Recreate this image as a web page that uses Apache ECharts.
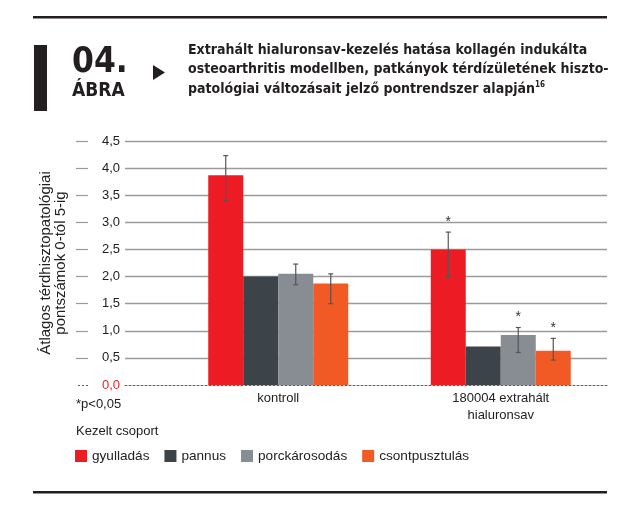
<!DOCTYPE html>
<html>
<head>
<meta charset="utf-8">
<script src="https://cdn.jsdelivr.net/npm/echarts@6/dist/echarts.min.js"></script>
<style>html,body{margin:0;padding:0;background:#fff}#c{width:643px;height:514px}</style>
</head>
<body>
<div id="c"></div>
<script>
// ---- data ----
var categories = ['kontroll', '180004 extrahált\nhialuronsav'];
var seriesNames = ['gyulladás', 'pannus', 'porckárosodás', 'csontpusztulás'];
var inflammation = [3.87, 2.50];
var pannus = [2.00, 0.71];
var cartilage = [2.05, 0.92];
var bone = [1.87, 0.63];
var inflammationErr = [[3.40, 4.23], [2.00, 2.82]];
var pannusErr = [null, null];
var cartilageErr = [[1.85, 2.23], [0.60, 1.06]];
var boneErr = [[1.50, 2.05], [0.46, 0.86]];
var inflammationSig = [false, true];
var pannusSig = [false, false];
var cartilageSig = [false, true];
var boneSig = [false, true];
var yTicks = [0, 0.5, 1, 1.5, 2, 2.5, 3, 3.5, 4, 4.5];

var colors = ['#ED1C24', '#3D4449', '#878D93', '#F15A24'];
var values = [inflammation, pannus, cartilage, bone];
var errs = [inflammationErr, pannusErr, cartilageErr, boneErr];
var sigs = [inflammationSig, pannusSig, cartilageSig, boneSig];

var FONT = '"Liberation Sans", Arial, sans-serif';
var NARROW = '"Liberation Sans Narrow", "DejaVu Sans Condensed", sans-serif';
var BAR_W = 35;

var chart = echarts.init(document.getElementById('c'), null, {renderer: 'canvas'});

var errData = [];
errs.forEach(function (arr, si) {
  arr.forEach(function (e, ci) {
    if (e || sigs[si][ci]) {
      errData.push([ci, e ? e[0] : values[si][ci], e ? e[1] : values[si][ci], si, sigs[si][ci] ? 1 : 0, e ? 1 : 0]);
    }
  });
});

var series = [];
seriesNames.forEach(function (n, i) {
  series.push({
    name: n, type: 'bar', xAxisIndex: 1, yAxisIndex: 3,
    data: values[i], barWidth: BAR_W, barGap: '0%',
    itemStyle: {color: colors[i]}, silent: true, animation: false
  });
});
series.push({
  type: 'custom', xAxisIndex: 1, yAxisIndex: 3, data: errData, silent: true, animation: false, z: 10,
  renderItem: function (params, api) {
    var ci = api.value(0), lo = api.value(1), hi = api.value(2), si = api.value(3);
    var sig = api.value(4), hasErr = api.value(5);
    var c = api.coord([ci, lo]);
    var x = c[0] + (si - 1.5) * BAR_W;
    var yLo = c[1];
    var yHi = api.coord([ci, hi])[1];
    var st = {stroke: '#555', lineWidth: 1.2};
    var ch = [];
    if (hasErr) {
      ch.push({type: 'line', shape: {x1: x, y1: yLo, x2: x, y2: yHi}, style: st});
      ch.push({type: 'line', shape: {x1: x - 2.5, y1: yLo, x2: x + 2.5, y2: yLo}, style: st});
      ch.push({type: 'line', shape: {x1: x - 2.5, y1: yHi, x2: x + 2.5, y2: yHi}, style: st});
    }
    if (sig) {
      ch.push({type: 'text', x: x, y: yHi - 10, style: {text: '*', fill: '#333', font: '14px ' + FONT, align: 'center', verticalAlign: 'middle'}});
    }
    return {type: 'group', children: ch};
  }
});

var gridTop = 141, gridBottom = 514 - 385;

chart.setOption({
  animation: false,
  grid: [
    {left: 125, right: 36, top: gridTop, bottom: gridBottom},
    {left: 167, right: 31, top: gridTop, bottom: gridBottom}
  ],
  xAxis: [
    {gridIndex: 0, type: 'value', min: 0, max: 1, axisLabel: {show: false}, axisTick: {show: false}, splitLine: {show: false},
      axisLine: {show: true, lineStyle: {color: '#E0252B', type: [2, 2], width: 1}}},
    {gridIndex: 1, type: 'category', data: categories, axisLine: {show: false}, axisTick: {show: false},
      axisLabel: {fontFamily: FONT, fontSize: 13, color: '#222', margin: 5, lineHeight: 17}}
  ],
  yAxis: [
    {gridIndex: 0, type: 'value', min: 0, max: 4.5, interval: 0.5,
      axisLine: {show: false}, axisTick: {show: false},
      splitLine: {show: true, lineStyle: {color: ['rgba(0,0,0,0)', '#9a9a9a', '#9a9a9a', '#9a9a9a', '#9a9a9a', '#9a9a9a', '#9a9a9a', '#9a9a9a', '#9a9a9a', '#9a9a9a'], width: 1.3}},
      axisLabel: {fontFamily: FONT, fontSize: 13, margin: 5,
        color: function (v) { return Number(v) === 0 ? '#E0252B' : '#222'; },
        formatter: function (v) { return v.toFixed(1).replace('.', ','); }},
      name: 'Átlagos térdhisztopatológiai\npontszámok 0-tól 5-ig', nameLocation: 'middle', nameGap: 57,
      nameTextStyle: {fontFamily: FONT, fontSize: 15, color: '#222', lineHeight: 15}
    },
    {gridIndex: 0, type: 'value', min: 0, max: 4.5, position: 'left', offset: 37,
      axisLine: {show: false}, axisLabel: {show: false}, splitLine: {show: false},
      axisTick: {show: true, length: 12, customValues: yTicks.slice(1), lineStyle: {color: '#9a9a9a', width: 1.2}}},
    {gridIndex: 0, type: 'value', min: 0, max: 4.5, position: 'left', offset: 37,
      axisLine: {show: false}, axisLabel: {show: false}, splitLine: {show: false},
      axisTick: {show: true, length: 12, customValues: [yTicks[0]], lineStyle: {color: '#E0252B', width: 1, type: [2, 2]}}},
    {gridIndex: 1, type: 'value', min: 0, max: 4.5, show: false}
  ],
  legend: {
    data: seriesNames, left: 75, top: 449, padding: 0, icon: 'rect', itemWidth: 12, itemHeight: 12, itemGap: 15,
    textStyle: {fontFamily: FONT, fontSize: 13.6, color: '#222'}, selectedMode: false
  },
  graphic: [
    {type: 'rect', shape: {x: 33, y: 16, width: 574, height: 2.5}, style: {fill: '#231F20'}},
    {type: 'rect', shape: {x: 33, y: 491, width: 574, height: 2.5}, style: {fill: '#231F20'}},
    {type: 'rect', shape: {x: 34, y: 45, width: 13, height: 66}, style: {fill: '#231F20'}},
    {type: 'text', x: 72, y: 45, style: {text: '04.', font: 'bold 35px ' + NARROW, fill: '#231F20'}},
    {type: 'text', x: 72, y: 82, style: {text: 'ÁBRA', font: 'bold 19px ' + NARROW, fill: '#231F20'}},
    {type: 'polygon', shape: {points: [[153, 65], [165, 72.5], [153, 80]]}, style: {fill: '#231F20'}},
    {type: 'text', x: 188, y: 43, style: {text: 'Extrahált hialuronsav-kezelés hatása kollagén indukálta', font: 'bold 14px ' + NARROW, fill: '#231F20'}},
    {type: 'text', x: 188, y: 62, style: {text: 'osteoarthritis modellben, patkányok térdízületének hiszto-', font: 'bold 14px ' + NARROW, fill: '#231F20'}},
    {type: 'text', x: 188, y: 81, style: {rich: {n: {font: 'bold 14px ' + NARROW, fill: '#231F20'}, s: {font: 'bold 8px ' + NARROW, fill: '#231F20', verticalAlign: 'top', padding: [0, 0, 8, 0]}}, text: '{n|patológiai változásait jelző pontrendszer alapján}{s|16}'}},
    {type: 'text', x: 76, y: 398, style: {text: '*p<0,05', font: '13px ' + FONT, fill: '#222'}},
    {type: 'text', x: 76, y: 425, style: {text: 'Kezelt csoport', font: '13px ' + FONT, fill: '#222'}}
  ],
  series: series
});
</script>
</body>
</html>
